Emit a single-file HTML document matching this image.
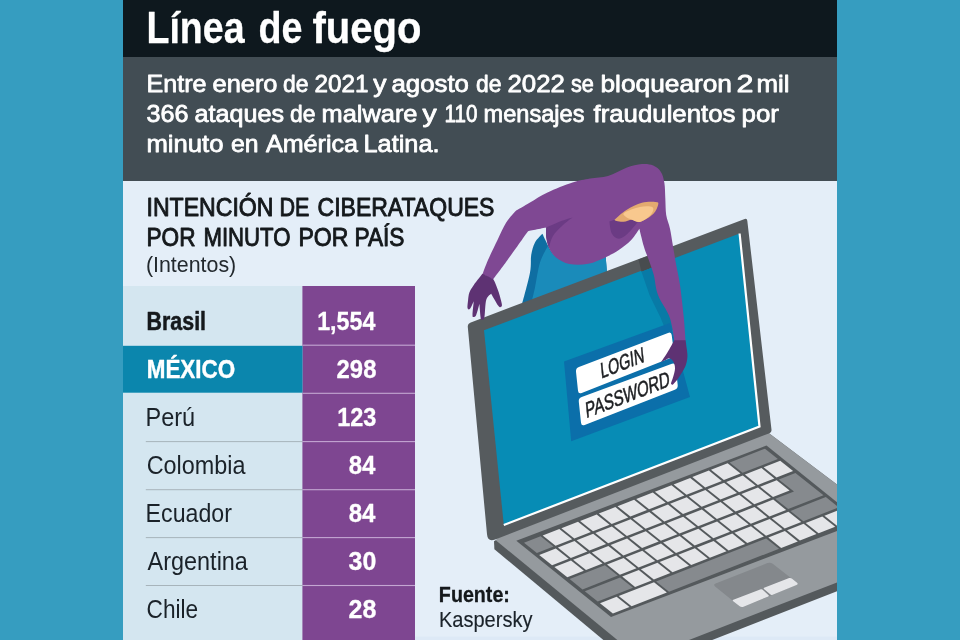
<!DOCTYPE html>
<html lang="es"><head><meta charset="utf-8"><title>Línea de fuego</title>
<style>
html,body{margin:0;padding:0;background:#369dc0;}
body{width:960px;height:640px;overflow:hidden;}
svg{display:block;font-family:"Liberation Sans",sans-serif;}
</style></head><body>
<svg width="960" height="640" viewBox="0 0 960 640">
<defs><clipPath id="clipPanel"><rect x="123" y="0" width="714" height="640"/></clipPath></defs>
<rect x="0" y="0" width="960" height="640" fill="#369dc0"/>
<rect x="123" y="0" width="714" height="640" fill="#e4eef8"/>
<rect x="123" y="0" width="714" height="57" fill="#0e181e"/>
<rect x="123" y="57" width="714" height="124" fill="#424d54"/>
<rect x="415" y="636.5" width="422" height="3.5" fill="#dde9f6"/>
<rect x="123" y="286" width="179.4" height="354" fill="#d4e6f0"/>
<rect x="302.4" y="286" width="112.6" height="354" fill="#7e4691"/>
<rect x="123" y="345.8" width="179.5" height="46.9" fill="#0b86ad"/>
<rect x="302.5" y="344.65" width="112.5" height="1.1" fill="#c4a6d2"/>
<rect x="302.5" y="392.75" width="112.5" height="1.1" fill="#c4a6d2"/>
<rect x="302.5" y="441.05" width="112.5" height="1.1" fill="#c4a6d2"/>
<rect x="145.8" y="441.1" width="156.7" height="1.0" fill="#a7b4bb"/>
<rect x="302.5" y="489.15" width="112.5" height="1.1" fill="#c4a6d2"/>
<rect x="145.8" y="489.2" width="156.7" height="1.0" fill="#a7b4bb"/>
<rect x="302.5" y="537.0500000000001" width="112.5" height="1.1" fill="#c4a6d2"/>
<rect x="145.8" y="537.1" width="156.7" height="1.0" fill="#a7b4bb"/>
<rect x="302.5" y="584.95" width="112.5" height="1.1" fill="#c4a6d2"/>
<rect x="145.8" y="585.0" width="156.7" height="1.0" fill="#a7b4bb"/>
<text y="42.9" font-size="44" font-weight="700" fill="#fff" stroke="#fff" stroke-width="0.3" stroke-linejoin="round"><tspan x="146.53" textLength="97.98" lengthAdjust="spacingAndGlyphs">Línea</tspan> <tspan x="258.51" textLength="43.96" lengthAdjust="spacingAndGlyphs">de</tspan> <tspan x="312.48" textLength="109.04" lengthAdjust="spacingAndGlyphs">fuego</tspan></text>
<text y="91.8" font-size="24.5" font-weight="400" fill="#fff" stroke="#fff" stroke-width="0.8" stroke-linejoin="round"><tspan x="146.49" textLength="60.02" lengthAdjust="spacingAndGlyphs">Entre</tspan> <tspan x="212.52" textLength="64.97" lengthAdjust="spacingAndGlyphs">enero</tspan> <tspan x="283.03" textLength="25.44" lengthAdjust="spacingAndGlyphs">de</tspan> <tspan x="314.51" textLength="53.96" lengthAdjust="spacingAndGlyphs">2021</tspan> <tspan x="373.39" textLength="13.22" lengthAdjust="spacingAndGlyphs">y</tspan> <tspan x="391.51" textLength="77.47" lengthAdjust="spacingAndGlyphs">agosto</tspan> <tspan x="476.01" textLength="25.44" lengthAdjust="spacingAndGlyphs">de</tspan> <tspan x="507.49" textLength="57.46" lengthAdjust="spacingAndGlyphs">2022</tspan> <tspan x="570.98" textLength="22.94" lengthAdjust="spacingAndGlyphs">se</tspan> <tspan x="600.48" textLength="131.51" lengthAdjust="spacingAndGlyphs">bloquearon</tspan> <tspan x="736.55" textLength="17.00" lengthAdjust="spacingAndGlyphs">2</tspan> <tspan x="756.50" textLength="33.00" lengthAdjust="spacingAndGlyphs">mil</tspan></text>
<text y="121.8" font-size="24.5" font-weight="400" fill="#fff" stroke="#fff" stroke-width="0.8" stroke-linejoin="round"><tspan x="146.48" textLength="42.01" lengthAdjust="spacingAndGlyphs">366</tspan> <tspan x="194.50" textLength="89.50" lengthAdjust="spacingAndGlyphs">ataques</tspan> <tspan x="290.03" textLength="25.44" lengthAdjust="spacingAndGlyphs">de</tspan> <tspan x="321.52" textLength="95.98" lengthAdjust="spacingAndGlyphs">malware</tspan> <tspan x="422.43" textLength="14.18" lengthAdjust="spacingAndGlyphs">y</tspan> <tspan x="444.55" textLength="32.97" lengthAdjust="spacingAndGlyphs">110</tspan> <tspan x="483.51" textLength="100.99" lengthAdjust="spacingAndGlyphs">mensajes</tspan> <tspan x="593.49" textLength="142.00" lengthAdjust="spacingAndGlyphs">fraudulentos</tspan> <tspan x="741.53" textLength="37.48" lengthAdjust="spacingAndGlyphs">por</tspan></text>
<text y="151.6" font-size="24.5" font-weight="400" fill="#fff" stroke="#fff" stroke-width="0.8" stroke-linejoin="round"><tspan x="146.48" textLength="77.02" lengthAdjust="spacingAndGlyphs">minuto</tspan> <tspan x="230.97" textLength="27.53" lengthAdjust="spacingAndGlyphs">en</tspan> <tspan x="265.97" textLength="92.06" lengthAdjust="spacingAndGlyphs">América</tspan> <tspan x="363.49" textLength="76.02" lengthAdjust="spacingAndGlyphs">Latina.</tspan></text>
<text y="216.2" font-size="25" font-weight="400" fill="#15191c" stroke="#15191c" stroke-width="0.9" stroke-linejoin="round"><tspan x="146.48" textLength="127.02" lengthAdjust="spacingAndGlyphs">INTENCIÓN</tspan> <tspan x="279.56" textLength="29.94" lengthAdjust="spacingAndGlyphs">DE</tspan> <tspan x="317.50" textLength="176.98" lengthAdjust="spacingAndGlyphs">CIBERATAQUES</tspan></text>
<text y="245.6" font-size="25" font-weight="400" fill="#15191c" stroke="#15191c" stroke-width="0.9" stroke-linejoin="round"><tspan x="146.49" textLength="49.02" lengthAdjust="spacingAndGlyphs">POR</tspan> <tspan x="203.50" textLength="87.00" lengthAdjust="spacingAndGlyphs">MINUTO</tspan> <tspan x="298.50" textLength="49.96" lengthAdjust="spacingAndGlyphs">POR</tspan> <tspan x="354.51" textLength="50.00" lengthAdjust="spacingAndGlyphs">PAÍS</tspan></text>
<text id="h3" x="145.91" y="272" font-size="22.5" font-weight="400" fill="#23292e" textLength="90.28" lengthAdjust="spacingAndGlyphs">(Intentos)</text>
<text id="c0" x="146.60" y="329.8" font-size="25" font-weight="700" fill="#15191c" textLength="59.41" lengthAdjust="spacingAndGlyphs" stroke="#15191c" stroke-width="0.5" stroke-linejoin="round">Brasil</text>
<text id="c1" x="146.70" y="377.8" font-size="25" font-weight="700" fill="#fff" textLength="88.50" lengthAdjust="spacingAndGlyphs" stroke="#fff" stroke-width="0.4" stroke-linejoin="round">MÉXICO</text>
<text id="c2" x="145.56" y="425.9" font-size="26" font-weight="400" fill="#1a2229" textLength="49.63" lengthAdjust="spacingAndGlyphs">Perú</text>
<text id="c3" x="146.63" y="473.9" font-size="26" font-weight="400" fill="#1a2229" textLength="98.89" lengthAdjust="spacingAndGlyphs">Colombia</text>
<text id="c4" x="145.59" y="521.9" font-size="26" font-weight="400" fill="#1a2229" textLength="86.33" lengthAdjust="spacingAndGlyphs">Ecuador</text>
<text id="c5" x="147.60" y="569.9" font-size="26" font-weight="400" fill="#1a2229" textLength="100.32" lengthAdjust="spacingAndGlyphs">Argentina</text>
<text id="c6" x="146.59" y="617.9" font-size="26" font-weight="400" fill="#1a2229" textLength="51.53" lengthAdjust="spacingAndGlyphs">Chile</text>
<text id="n0" x="317.17" y="329.9" font-size="25.5" font-weight="700" fill="#fff" textLength="58.24" lengthAdjust="spacingAndGlyphs" stroke="#fff" stroke-width="0.3" stroke-linejoin="round">1,554</text>
<text id="n1" x="336.62" y="377.9" font-size="25.5" font-weight="700" fill="#fff" textLength="39.78" lengthAdjust="spacingAndGlyphs" stroke="#fff" stroke-width="0.3" stroke-linejoin="round">298</text>
<text id="n2" x="337.20" y="425.9" font-size="25.5" font-weight="700" fill="#fff" textLength="39.21" lengthAdjust="spacingAndGlyphs" stroke="#fff" stroke-width="0.3" stroke-linejoin="round">123</text>
<text id="n3" x="348.64" y="473.9" font-size="25.5" font-weight="700" fill="#fff" textLength="26.76" lengthAdjust="spacingAndGlyphs" stroke="#fff" stroke-width="0.3" stroke-linejoin="round">84</text>
<text id="n4" x="348.64" y="521.9" font-size="25.5" font-weight="700" fill="#fff" textLength="26.76" lengthAdjust="spacingAndGlyphs" stroke="#fff" stroke-width="0.3" stroke-linejoin="round">84</text>
<text id="n5" x="348.61" y="569.9" font-size="25.5" font-weight="700" fill="#fff" textLength="27.74" lengthAdjust="spacingAndGlyphs" stroke="#fff" stroke-width="0.3" stroke-linejoin="round">30</text>
<text id="n6" x="348.60" y="617.9" font-size="25.5" font-weight="700" fill="#fff" textLength="27.81" lengthAdjust="spacingAndGlyphs" stroke="#fff" stroke-width="0.3" stroke-linejoin="round">28</text>
<text id="f1" x="438.87" y="601.7" font-size="22" font-weight="700" fill="#15191c" textLength="71.05" lengthAdjust="spacingAndGlyphs" stroke="#15191c" stroke-width="0.3" stroke-linejoin="round">Fuente:</text>
<text id="f2" x="438.88" y="627.3" font-size="22" font-weight="400" fill="#1a2229" textLength="93.60" lengthAdjust="spacingAndGlyphs" stroke="#1a2229" stroke-width="0.15" stroke-linejoin="round">Kaspersky</text>
<g clip-path="url(#clipPanel)">
<path d="M542.5,233.8 C542.5,233.8 536.9,239.0 535.0,242.5 C533.1,246.0 532.1,250.0 531.2,255.0 C530.4,260.0 531.5,264.3 530.0,272.5 C528.5,280.7 522.0,304.0 522.0,304.0 C522.0,304.0 560.0,300.0 560.0,300.0 C560.0,300.0 607.0,272.0 607.0,272.0 C607.0,272.0 605.6,255.0 605.6,255.0 C605.6,255.0 594.1,260.8 588.0,262.0 C581.9,263.2 574.7,263.2 569.0,262.0 C563.3,260.8 558.4,259.7 554.0,255.0 C549.6,250.3 542.5,233.8 542.5,233.8 Z" fill="#0f6ea2"/>
<path d="M548.0,246.0 C548.0,246.0 542.2,255.6 540.0,262.5 C537.8,269.4 536.4,280.9 535.0,287.5 C533.6,294.1 531.5,302.0 531.5,302.0 C531.5,302.0 560.0,300.0 560.0,300.0 C560.0,300.0 607.0,272.0 607.0,272.0 C607.0,272.0 605.6,255.0 605.6,255.0 C605.6,255.0 594.1,260.8 588.0,262.0 C581.9,263.2 574.7,263.2 569.0,262.0 C563.3,260.8 557.5,257.7 554.0,255.0 C550.5,252.3 548.0,246.0 548.0,246.0 Z" fill="#1a8bba"/>
<polygon points="494.0,541.2 496.0,540.0 740.0,411.5 922.6,549.1 923.0,557.8 638.1,668.9 494.4,549.2" fill="#54595c"/>
<polygon points="496.0,540.5 520.0,500.0 740.0,411.5 922.6,549.1 640.4,658.9" fill="#959a9e"/>
<polygon points="516.3,540.8 766.5,445.6 861.2,521.8 611.0,617.0" fill="#54595c"/>
<polygon points="524.0,542.8 540.6,536.3 553.5,546.6 536.9,553.1" fill="#868a8e"/>
<polygon points="542.7,535.5 559.3,529.0 572.2,539.3 555.6,545.8" fill="#e5e6e9"/>
<polygon points="561.4,528.2 578.0,521.7 590.9,532.0 574.3,538.5" fill="#e5e6e9"/>
<polygon points="580.1,520.9 596.7,514.4 609.6,524.7 593.0,531.2" fill="#e5e6e9"/>
<polygon points="598.8,513.6 615.4,507.1 628.3,517.4 611.7,523.9" fill="#e5e6e9"/>
<polygon points="617.5,506.3 634.1,499.8 647.0,510.1 630.4,516.6" fill="#e5e6e9"/>
<polygon points="636.2,499.0 652.8,492.5 665.7,502.8 649.1,509.3" fill="#e5e6e9"/>
<polygon points="654.9,491.7 671.5,485.2 684.4,495.5 667.8,502.0" fill="#e5e6e9"/>
<polygon points="673.6,484.4 690.2,477.9 703.1,488.2 686.5,494.7" fill="#e5e6e9"/>
<polygon points="692.3,477.1 708.9,470.6 721.8,480.9 705.2,487.4" fill="#e5e6e9"/>
<polygon points="711.0,469.8 727.6,463.3 740.5,473.6 723.9,480.1" fill="#e5e6e9"/>
<polygon points="729.7,462.5 765.0,448.7 777.9,459.0 742.6,472.8" fill="#868a8e"/>
<polygon points="539.2,554.9 555.8,548.4 568.7,558.7 552.1,565.2" fill="#e5e6e9"/>
<polygon points="557.9,547.6 574.5,541.1 587.4,551.4 570.8,557.9" fill="#e5e6e9"/>
<polygon points="576.6,540.3 593.2,533.8 606.1,544.1 589.5,550.6" fill="#e5e6e9"/>
<polygon points="595.3,533.0 611.9,526.5 624.8,536.8 608.2,543.3" fill="#e5e6e9"/>
<polygon points="614.0,525.7 630.6,519.2 643.5,529.5 626.9,536.0" fill="#e5e6e9"/>
<polygon points="632.7,518.4 649.3,511.9 662.2,522.2 645.6,528.7" fill="#e5e6e9"/>
<polygon points="651.4,511.1 668.0,504.6 680.9,514.9 664.3,521.4" fill="#e5e6e9"/>
<polygon points="670.1,503.8 686.7,497.3 699.6,507.6 683.0,514.1" fill="#e5e6e9"/>
<polygon points="688.8,496.5 705.4,490.0 718.3,500.3 701.7,506.8" fill="#e5e6e9"/>
<polygon points="707.5,489.2 724.1,482.7 737.0,493.0 720.4,499.5" fill="#e5e6e9"/>
<polygon points="726.2,481.9 742.8,475.4 755.7,485.7 739.1,492.2" fill="#e5e6e9"/>
<polygon points="744.9,474.6 761.5,468.1 774.4,478.4 757.8,484.9" fill="#e5e6e9"/>
<polygon points="763.6,467.3 780.2,460.8 793.1,471.1 776.5,477.6" fill="#e5e6e9"/>
<polygon points="554.4,567.0 571.0,560.5 583.9,570.8 567.3,577.3" fill="#e5e6e9"/>
<polygon points="573.1,559.7 589.7,553.2 602.6,563.5 586.0,570.0" fill="#e5e6e9"/>
<polygon points="591.8,552.4 608.4,545.9 621.3,556.2 604.7,562.7" fill="#e5e6e9"/>
<polygon points="610.5,545.1 627.1,538.6 640.0,548.9 623.4,555.4" fill="#e5e6e9"/>
<polygon points="629.2,537.8 645.8,531.3 658.7,541.6 642.1,548.1" fill="#e5e6e9"/>
<polygon points="647.9,530.5 664.5,524.0 677.4,534.3 660.8,540.8" fill="#e5e6e9"/>
<polygon points="666.6,523.2 683.2,516.7 696.1,527.0 679.5,533.5" fill="#e5e6e9"/>
<polygon points="685.3,515.9 701.9,509.4 714.8,519.7 698.2,526.2" fill="#e5e6e9"/>
<polygon points="704.0,508.6 720.6,502.1 733.5,512.4 716.9,518.9" fill="#e5e6e9"/>
<polygon points="722.7,501.3 739.3,494.8 752.2,505.1 735.6,511.6" fill="#e5e6e9"/>
<polygon points="741.4,494.0 758.0,487.5 770.9,497.8 754.3,504.3" fill="#e5e6e9"/>
<polygon points="760.1,486.7 776.7,480.2 789.6,490.5 773.0,497.0" fill="#e5e6e9"/>
<polygon points="778.8,479.4 795.4,472.9 823.5,495.3 788.2,509.1 775.3,498.8 794.0,491.5" fill="#868a8e"/>
<polygon points="569.6,579.1 604.9,565.3 617.8,575.6 582.5,589.4" fill="#868a8e"/>
<polygon points="607.0,564.5 623.6,558.0 636.5,568.3 619.9,574.8" fill="#e5e6e9"/>
<polygon points="625.7,557.2 642.3,550.7 655.2,561.0 638.6,567.5" fill="#e5e6e9"/>
<polygon points="644.4,549.9 661.0,543.4 673.9,553.7 657.3,560.2" fill="#e5e6e9"/>
<polygon points="663.1,542.6 679.7,536.1 692.6,546.4 676.0,552.9" fill="#e5e6e9"/>
<polygon points="681.8,535.3 698.4,528.8 711.3,539.1 694.7,545.6" fill="#e5e6e9"/>
<polygon points="700.5,528.0 717.1,521.5 730.0,531.8 713.4,538.3" fill="#e5e6e9"/>
<polygon points="719.2,520.7 735.8,514.2 748.7,524.5 732.1,531.0" fill="#e5e6e9"/>
<polygon points="737.9,513.4 754.5,506.9 767.4,517.2 750.8,523.7" fill="#e5e6e9"/>
<polygon points="756.6,506.1 773.2,499.6 786.1,509.9 769.5,516.4" fill="#e5e6e9"/>
<polygon points="584.8,591.2 620.1,577.4 633.0,587.7 597.7,601.5" fill="#868a8e"/>
<polygon points="622.2,576.6 638.8,570.1 651.7,580.4 635.1,586.9" fill="#e5e6e9"/>
<polygon points="640.9,569.3 657.5,562.8 670.4,573.1 653.8,579.6" fill="#e5e6e9"/>
<polygon points="659.6,562.0 676.2,555.5 689.1,565.8 672.5,572.3" fill="#e5e6e9"/>
<polygon points="678.3,554.7 694.9,548.2 707.8,558.5 691.2,565.0" fill="#e5e6e9"/>
<polygon points="697.0,547.4 713.6,540.9 726.5,551.2 709.9,557.7" fill="#e5e6e9"/>
<polygon points="715.7,540.1 732.3,533.6 745.2,543.9 728.6,550.4" fill="#e5e6e9"/>
<polygon points="734.4,532.8 751.0,526.3 763.9,536.6 747.3,543.1" fill="#e5e6e9"/>
<polygon points="753.1,525.5 769.7,519.0 782.6,529.3 766.0,535.8" fill="#e5e6e9"/>
<polygon points="771.8,518.2 788.4,511.7 801.3,522.0 784.7,528.5" fill="#e5e6e9"/>
<polygon points="790.5,510.9 825.8,497.1 838.7,507.4 803.4,521.2" fill="#868a8e"/>
<polygon points="600.0,603.3 616.6,596.8 629.5,607.1 612.9,613.6" fill="#e5e6e9"/>
<polygon points="618.7,596.0 654.0,582.2 666.9,592.5 631.6,606.3" fill="#e5e6e9"/>
<polygon points="656.1,581.4 766.2,538.4 779.1,548.7 669.0,591.7" fill="#868a8e"/>
<polygon points="768.3,537.6 784.9,531.1 797.8,541.4 781.2,547.9" fill="#e5e6e9"/>
<polygon points="787.0,530.3 803.6,523.8 816.5,534.1 799.9,540.6" fill="#e5e6e9"/>
<polygon points="805.7,523.0 822.3,516.5 835.2,526.8 818.6,533.3" fill="#e5e6e9"/>
<polygon points="824.4,515.7 841.0,509.2 853.9,519.5 837.3,526.0" fill="#e5e6e9"/>
<path d="M715.1,586.4 Q712.8,584.5 715.6,583.4 L767.5,563.1 Q770.3,562.0 772.7,563.8 L796.4,582.2 Q798.8,584.0 796.0,585.1 L744.1,606.6 Q741.3,607.7 739.0,605.8 Z" fill="#84888c"/>
<path d="M733.2,601.2 Q732.0,600.3 733.4,599.8 L760.8,589.3 Q761.7,588.9 762.4,589.6 L768.6,595.3 Q769.3,596.0 768.4,596.4 L743.6,606.7 Q741.3,607.7 739.3,606.1 Z" fill="#e5e6e9"/>
<path d="M763.9,588.9 Q763.2,588.2 764.1,587.8 L789.2,578.1 Q790.6,577.6 791.8,578.5 L796.8,582.5 Q798.8,584.0 796.5,584.9 L772.1,594.9 Q771.2,595.3 770.5,594.6 Z" fill="#e5e6e9"/>
<path d="M467.8,327.1 Q467.5,323.6 470.8,322.4 L744.7,219.1 Q747.0,218.2 747.3,220.7 L771.5,429.8 Q771.8,432.3 769.5,433.2 L495.2,539.4 Q487.7,542.3 487.0,534.3 Z" fill="#565b5e"/>
<polygon points="484.0,330.3 739.6,233.5 759.5,426.6 503.8,525.0" fill="#078cb5"/>
<polyline points="739.6,233.5 759.5,426.6 503.8,525.0" fill="none" stroke="#fff" stroke-width="2.2"/>
<polygon points="638.5,259.6 652.0,254.5 655.0,266.5 641.5,271.8" fill="#484c4f"/>
<polygon points="641.5,271.8 655.0,266.5 662.0,295.0 672.0,317.5 676.0,330.0 665.5,330.0 660.5,317.5 649.5,295.0" fill="#087aa6"/>
<polygon points="564.0,361.6 670.0,323.0 690.0,397.0 571.2,441.2" fill="#0b6faa"/>
<path d="M576.0,371.7 Q575.6,368.2 578.9,366.9 L668.0,332.9 Q671.3,331.6 671.7,335.1 L674.0,353.0 Q674.4,356.5 671.1,357.8 L581.7,393.0 Q578.4,394.3 578.0,390.8 Z" fill="#fff"/>
<path d="M578.8,401.7 Q578.4,398.2 581.7,397.0 L671.9,363.8 Q675.2,362.6 675.6,366.1 L677.7,385.0 Q678.1,388.5 674.8,389.8 L584.7,425.0 Q581.4,426.3 581.0,422.8 Z" fill="#fff"/>
<text transform="matrix(1,-0.385,0.1,1,601.3,378.4)" x="0" y="0" font-size="21.5" fill="#1d1f22" textLength="43.5" lengthAdjust="spacingAndGlyphs" stroke="#1d1f22" stroke-width="0.55">LOGIN</text>
<text transform="matrix(1,-0.385,0.1,1,586.3,418)" x="0" y="0" font-size="21.5" fill="#1d1f22" textLength="84" lengthAdjust="spacingAndGlyphs" stroke="#1d1f22" stroke-width="0.55">PASSWORD</text>
<path d="M572.5,182.5 C579.6,180.2 584.1,179.6 590.0,178.5 C595.9,177.4 601.9,177.8 608.0,176.0 C614.1,174.2 620.8,169.7 626.4,167.7 C632.0,165.7 637.4,164.5 641.9,164.1 C646.4,163.7 650.0,164.2 653.2,165.5 C656.4,166.8 659.0,169.0 660.9,171.9 C662.8,174.8 663.7,178.8 664.4,183.1 C665.1,187.4 665.0,192.7 665.3,198.0 C665.6,203.3 665.5,209.9 666.2,215.0 C667.0,220.1 668.9,223.5 670.0,228.8 C671.1,234.0 672.0,240.2 673.0,246.2 C674.0,252.3 675.1,258.5 676.2,265.0 C677.4,271.5 678.7,276.2 680.0,285.0 C681.3,293.8 682.9,308.2 683.8,317.5 C684.7,326.8 685.6,341.0 685.6,341.0 C685.6,341.0 674.4,341.0 674.4,341.0 C674.4,341.0 672.4,325.2 669.7,317.5 C667.0,309.8 660.7,302.1 658.0,295.0 C655.3,287.9 655.3,280.8 653.8,275.0 C652.2,269.2 650.4,264.8 648.8,260.0 C647.1,255.2 645.3,251.5 643.8,246.2 C642.2,241.0 639.4,228.8 639.4,228.8 C639.4,228.8 634.7,236.5 631.2,240.0 C627.8,243.5 622.9,247.2 618.8,250.0 C614.6,252.8 611.3,254.6 606.2,256.9 C601.2,259.2 594.3,262.6 588.2,263.8 C582.1,265.0 574.8,265.1 569.4,264.0 C564.0,262.9 559.4,260.2 556.0,257.5 C552.6,254.8 550.4,250.9 548.8,247.5 C547.1,244.1 546.7,240.3 546.2,237.0 C545.8,233.7 546.2,227.5 546.2,227.5 C546.2,227.5 528.0,231.2 528.0,231.2 C528.0,231.2 513.3,252.0 507.5,260.0 C501.7,268.0 493.1,279.4 493.1,279.4 C493.1,279.4 482.5,274.4 482.5,274.4 C482.5,274.4 485.5,265.7 488.0,260.0 C490.5,254.3 494.5,246.2 497.5,240.0 C500.5,233.8 503.1,227.4 506.2,222.5 C509.4,217.6 516.2,210.6 516.2,210.6 C516.2,210.6 524.8,205.5 530.0,202.5 C535.2,199.5 540.4,195.8 547.5,192.5 C554.6,189.2 565.4,184.8 572.5,182.5 Z" fill="#7f4893"/>
<path d="M546.2,227.5 C546.2,227.5 555.6,223.2 560.0,221.5 C564.4,219.8 572.5,217.5 572.5,217.5 C572.5,217.5 565.2,222.9 562.0,226.0 C558.8,229.1 555.2,232.4 553.0,236.0 C550.8,239.6 549.0,247.5 549.0,247.5 C549.0,247.5 546.7,240.3 546.2,237.0 C545.8,233.7 546.2,227.5 546.2,227.5 Z" fill="#6b3b84"/>
<path d="M609.4,221.5 C609.4,221.5 610.3,230.9 611.9,233.8 C613.5,236.6 616.1,238.8 618.8,238.8 C621.4,238.8 624.4,236.5 627.5,233.8 C630.6,231.0 635.2,225.1 637.5,222.5 C639.8,219.9 641.0,218.0 641.0,218.0 C641.0,218.0 630.3,216.4 625.0,217.0 C619.7,217.6 609.4,221.5 609.4,221.5 Z" fill="#6b3b84"/>
<path d="M614.5,219.7 C614.5,219.7 621.8,212.7 626.4,209.9 C631.0,207.1 637.0,204.1 641.9,202.8 C646.8,201.5 653.3,201.7 656.0,202.1 C658.7,202.5 658.6,203.0 658.1,205.0 C657.6,207.0 656.1,211.3 653.2,214.1 C650.3,216.9 644.0,220.9 640.5,221.8 C637.0,222.7 634.8,219.7 632.0,219.7 C629.2,219.7 626.2,221.6 623.6,221.8 C621.0,222.0 618.1,221.3 616.6,221.0 C615.1,220.7 614.5,219.7 614.5,219.7 Z" fill="#e3aa70"/>
<path d="M624.3,212.7 C626.6,211.0 635.3,207.9 640.0,207.0 C644.7,206.1 650.7,206.1 652.5,207.3 C654.3,208.6 653.0,212.1 651.0,214.5 C649.0,216.9 643.7,220.9 640.5,221.8 C637.3,222.7 634.4,220.5 632.0,219.7 C629.6,218.9 627.3,218.2 626.0,217.0 C624.7,215.8 622.0,214.4 624.3,212.7 Z" fill="#f8c88e"/>
<path d="M482.5,273.8 C482.5,273.8 475.9,281.9 473.8,285.0 C471.6,288.1 470.3,290.0 469.4,292.5 C468.5,295.0 468.4,297.4 468.1,300.0 C467.8,302.6 467.2,306.5 467.5,308.0 C467.8,309.5 469.0,309.9 470.0,308.8 C471.0,307.6 473.8,301.2 473.8,301.2 C473.8,301.2 472.5,312.4 472.5,315.0 C472.5,317.6 473.1,316.9 473.8,316.9 C474.4,316.9 475.3,317.2 476.2,315.0 C477.2,312.8 479.4,303.8 479.4,303.8 C479.4,303.8 480.2,314.9 480.6,317.5 C481.0,320.1 481.3,319.4 481.9,319.4 C482.5,319.4 483.7,320.7 484.4,317.5 C485.1,314.3 485.1,304.0 486.2,300.0 C487.4,296.0 491.2,293.8 491.2,293.8 C491.2,293.8 496.5,303.4 498.1,305.6 C499.7,307.8 500.0,307.1 500.6,306.9 C501.2,306.7 502.2,306.8 501.9,304.4 C501.6,302.0 499.9,296.1 498.8,292.5 C497.6,288.9 495.9,284.8 495.0,282.5 C494.1,280.2 493.1,279.0 493.1,279.0 C493.1,279.0 482.5,273.8 482.5,273.8 Z" fill="#5e3273"/>
<path d="M674.4,340.3 C674.4,340.3 671.1,346.2 669.5,349.0 C667.9,351.8 666.0,354.8 664.5,357.0 C663.0,359.2 660.8,362.3 660.8,362.3 C660.8,362.3 663.5,361.0 665.0,360.3 C666.5,359.6 668.1,358.0 669.5,358.3 C670.9,358.6 672.6,360.3 673.5,362.0 C674.4,363.7 675.1,366.1 675.0,368.7 C674.9,371.3 673.7,375.0 673.0,377.5 C672.3,380.0 671.0,382.3 671.0,383.5 C671.0,384.7 672.8,384.8 672.8,384.8 C672.8,384.8 675.6,381.8 677.0,380.0 C678.4,378.2 679.6,376.3 681.0,374.0 C682.4,371.7 684.4,368.8 685.5,366.0 C686.6,363.2 687.2,359.8 687.4,357.0 C687.6,354.2 687.1,351.8 686.8,349.0 C686.5,346.2 685.6,340.3 685.6,340.3 C685.6,340.3 674.4,340.3 674.4,340.3 Z" fill="#5e3273"/>
</g>
</svg>
</body></html>
